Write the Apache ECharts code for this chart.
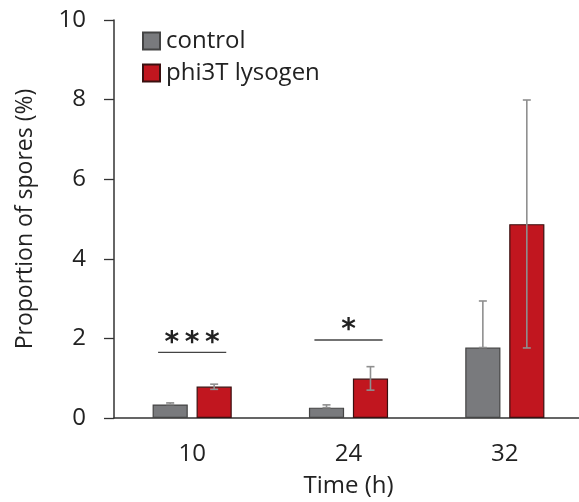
<!DOCTYPE html>
<html>
<head>
<meta charset="utf-8">
<script src="https://cdn.jsdelivr.net/npm/echarts@6/dist/echarts.min.js"></script>
<style>html,body{margin:0;padding:0;background:#fff}#c{width:579px;height:502px}</style>
</head>
<body>
<div id="c"></div>
<script>
var categories = ['10', '24', '32'];
var seriesNames = ['control', 'phi3T lysogen'];
var controlValues = [0.34, 0.26, 1.77];
var lysogenValues = [0.79, 0.99, 4.87];
var controlErrLow = [0.34, 0.26, 1.77];
var controlErrHigh = [0.38, 0.33, 2.94];
var lysogenErrLow = [0.72, 0.70, 1.76];
var lysogenErrHigh = [0.85, 1.29, 7.99];
var sigCategories = [0, 1];
var sigLevels = [1.65, 1.96];
var sigLabels = ['*\u2009*\u2009*', '*'];
var yTicks = [0, 2, 4, 6, 8, 10];

var FONT = 'Open Sans';
var BAR_W = 0.225;   // fraction of band
var BAR_GAP = 0.25;  // fraction of bar width
var chart = echarts.init(document.getElementById('c'));

function errItem(sign) {
  return function (params, api) {
    var band = api.size([1, 0])[0];
    var bw = band * BAR_W;
    var off = sign * (bw + bw * BAR_GAP) / 2;
    var lo = api.coord([api.value(0), api.value(1)]);
    var hi = api.coord([api.value(0), api.value(2)]);
    var x = lo[0] + off;
    var cap = 4;
    var st = {stroke: '#8f8f8f', lineWidth: 1.6};
    return {type: 'group', children: [
      {type: 'line', shape: {x1: x, y1: lo[1], x2: x, y2: hi[1]}, style: st},
      {type: 'line', shape: {x1: x - cap, y1: hi[1], x2: x + cap, y2: hi[1]}, style: st},
      {type: 'line', shape: {x1: x - cap, y1: lo[1], x2: x + cap, y2: lo[1]}, style: st}
    ]};
  };
}

function sigItem(params, api) {
  var band = api.size([1, 0])[0];
  var p = api.coord([api.value(0), api.value(1)]);
  var half = band * 0.218;
  var lbl = sigLabels[params.dataIndex];
  return {type: 'group', children: [
    {type: 'line', shape: {x1: p[0] - half, y1: p[1], x2: p[0] + half, y2: p[1]}, style: {stroke: '#444', lineWidth: 1.3}},
    {type: 'text', style: {x: p[0], y: p[1] + 5, text: lbl, textAlign: 'center', textVerticalAlign: 'bottom', font: '600 28px "DejaVu Sans"', fill: '#222'}}
  ]};
}

var ctrlErr = categories.map(function (c, i) { return [i, controlErrLow[i], controlErrHigh[i]]; });
var lysErr = categories.map(function (c, i) { return [i, lysogenErrLow[i], lysogenErrHigh[i]]; });
var sigData = sigCategories.map(function (c, i) { return [c, sigLevels[i]]; });

chart.setOption({
  animation: false,
  textStyle: {fontFamily: FONT},
  grid: {left: 114, top: 20, width: 469, height: 398, containLabel: false, outerBoundsMode: 'none'},
  legend: {
    orient: 'vertical', left: 137, top: 24, itemWidth: 17, itemHeight: 17, itemGap: 8,
    icon: 'rect', data: seriesNames,
    textStyle: {fontFamily: FONT, fontSize: 24, color: '#222', padding: [0, 0, 0, 1]}
  },
  xAxis: {
    type: 'category', data: categories,
    axisLine: {lineStyle: {color: '#333', width: 1.5}},
    axisTick: {show: false},
    axisLabel: {fontSize: 24, color: '#222', margin: 24, fontFamily: FONT},
    name: 'Time (h)', nameLocation: 'middle', nameGap: 56,
    nameTextStyle: {fontSize: 24, color: '#222', fontFamily: FONT}
  },
  yAxis: {
    type: 'value', min: yTicks[0], max: yTicks[yTicks.length - 1], interval: 2,
    splitLine: {show: false},
    axisLine: {show: true, lineStyle: {color: '#333', width: 1.5}},
    axisTick: {show: true, inside: false, length: 10, lineStyle: {color: '#333', width: 1.3}},
    axisLabel: {fontSize: 24, color: '#222', margin: 28, fontFamily: FONT},
    name: 'Proportion of spores (%)', nameLocation: 'middle', nameGap: 77,
    nameTextStyle: {fontSize: 23, color: '#222', fontFamily: FONT}
  },
  series: [
    {name: seriesNames[0], type: 'bar', data: controlValues, barWidth: (BAR_W * 100) + '%', barGap: (BAR_GAP * 100) + '%',
     itemStyle: {color: '#797a7d', borderColor: '#444', borderWidth: 1.2}},
    {name: seriesNames[1], type: 'bar', data: lysogenValues, barWidth: (BAR_W * 100) + '%', barGap: (BAR_GAP * 100) + '%',
     itemStyle: {color: '#c1161f', borderColor: '#3a1010', borderWidth: 1.2}},
    {type: 'custom', renderItem: errItem(-1), data: ctrlErr, z: 5, silent: true},
    {type: 'custom', renderItem: errItem(1), data: lysErr, z: 5, silent: true},
    {type: 'custom', renderItem: sigItem, data: sigData, z: 5, silent: true}
  ]
});
</script>
</body>
</html>
